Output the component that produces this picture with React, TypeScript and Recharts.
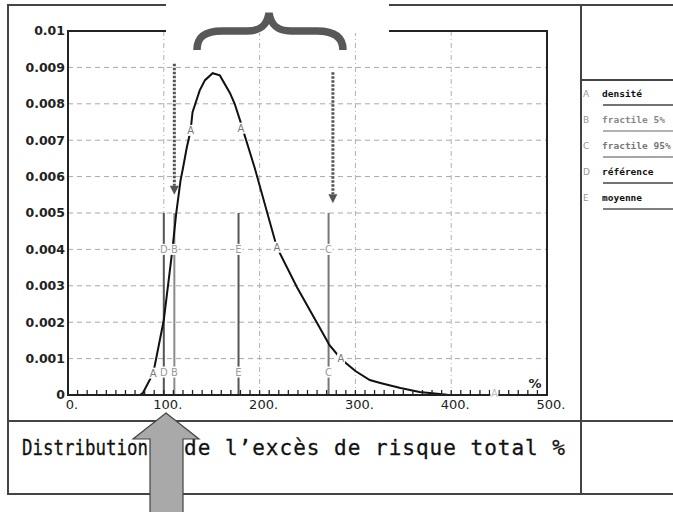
import React from 'react';
import {
  LineChart,
  Line,
  XAxis,
  YAxis,
  CartesianGrid,
  ReferenceLine,
  ReferenceDot,
  ReferenceArea,
} from 'recharts';

// ---- data ----
const densityX = [75, 78, 89, 100, 109, 113, 117.5, 120, 124, 128, 130, 137.5, 143, 151, 158.5, 169, 174, 179.5, 195, 218, 239, 260, 273, 285, 300, 315, 326, 347, 367, 396, 430, 500];
const densityY = [0, 0.00005, 0.0006, 0.00206, 0.004, 0.005, 0.0059, 0.00623, 0.0068, 0.00727, 0.00777, 0.00837, 0.00865, 0.00884, 0.00878, 0.0083, 0.008, 0.00755, 0.00623, 0.00406, 0.00296, 0.00198, 0.00137, 0.00099, 0.00066, 0.00041, 0.00033, 0.00019, 0.00008, 0.00001, 0, 0];

const yTicks = [0, 0.001, 0.002, 0.003, 0.004, 0.005, 0.006, 0.007, 0.008, 0.009, 0.01];
const yTickLabels = ['0', '0.001', '0.002', '0.003', '0.004', '0.005', '0.006', '0.007', '0.008', '0.009', '0.01'];
const xLabelTicks = [0, 100, 200, 300, 400, 500];
const xTickLabels = ['0.', '100.', '200.', '300.', '400.', '500.'];
const xGridValues = [100, 200, 300, 400];
const xMinorStep = 10;
const xMax = 500;
const xMinorTicks = Array.from({ length: xMax / xMinorStep + 1 }, (_, i) => i * xMinorStep);

// vertical marker lines (letter, x value, colour)
const markerLetters = ['D', 'B', 'E', 'C'];
const markerX = [100, 111, 178, 272];
const markerColors = ['#555', '#8a8a8a', '#555', '#777'];
const markerTop = 0.005;
const markerLabelY = [0.004, 0.00063];

// "A" labels on the density curve
const curveLabelX = [89, 128, 180.5, 218, 285, 445];
const curveLabelY = [0.0006, 0.00727, 0.00733, 0.00406, 0.00099, 0.00003];

// dotted annotation arrows
const arrowX = [111, 276.5];
const arrowFrom = [0.0091, 0.00887];
const arrowTo = [0.0055, 0.00527];

// legend
const legendLetters = ['A', 'B', 'C', 'D', 'E'];
const legendNames = ['densité', 'fractile  5%', 'fractile 95%', 'référence', 'moyenne'];
const legendTextColors = ['#111', '#888', '#777', '#111', '#111'];
const legendLineColors = ['#444', '#999', '#888', '#444', '#555'];

const titleFirstWord = 'Distribution';
const titleRest = 'de l’excès de risque total %';

const data = densityX.map((x, i) => ({ x, y: densityY[i] }));

const letterShape = (letter: string, color: string) => (p: any) => (
  <g>
    <rect x={p.cx - 4} y={p.cy - 5.5} width={8} height={11} fill="#fff" />
    <text
      x={p.cx}
      y={p.cy + 3.5}
      textAnchor="middle"
      fontSize={10}
      fontFamily="DejaVu Sans, sans-serif"
      fill={color}
    >
      {letter}
    </text>
  </g>
);

const arrowHead = (p: any) => (
  <polygon
    points={`${p.cx - 4.5},${p.cy - 9} ${p.cx + 4.5},${p.cy - 9} ${p.cx},${p.cy}`}
    fill="#555"
  />
);

const gridGen = (props: any) => {
  const xAxis = props && props.xAxis;
  if (xAxis && typeof xAxis.scale === 'function') {
    return xGridValues.map((v) => xAxis.scale(v));
  }
  const off = props.offset;
  return xGridValues.map((v) => off.left + (v / xMax) * off.width);
};

export default function App() {
  const frame = '#444';
  return (
    <div style={{ position: 'absolute', left: 0, top: 0, width: 673, height: 512, background: '#fff' }}>
      <LineChart
        width={673}
        height={512}
        data={data}
        margin={{ top: 31, right: 126, bottom: 0, left: 0 }}
      >
        <CartesianGrid vertical={false} stroke="#a8a8a8" strokeDasharray="5 4" />
        <CartesianGrid
          horizontal={false}
          stroke="#b0b0b0"
          strokeDasharray="5 3 1 3"
          verticalCoordinatesGenerator={gridGen}
        />
        <ReferenceArea x1={0} x2={xMax} y1={0} y2={0.01} fill="none" stroke="#222" strokeWidth={2} />
        <XAxis
          dataKey="x"
          type="number"
          domain={[0, xMax]}
          ticks={xMinorTicks}
          interval={0}
          height={117}
          axisLine={{ stroke: '#222', strokeWidth: 2 }}
          tickLine={{ stroke: '#222', strokeWidth: 1.3 }}
          tickSize={-5}
          tickMargin={10}
          tick={{ fontSize: 13, fontFamily: 'DejaVu Sans, sans-serif', fill: '#222', dx: 4 }}
          tickFormatter={(v: number) => {
            const i = xLabelTicks.indexOf(v);
            return i >= 0 ? xTickLabels[i] : '';
          }}
        />
        <YAxis
          type="number"
          domain={[0, 0.01]}
          ticks={yTicks}
          interval={0}
          width={68}
          axisLine={{ stroke: '#222', strokeWidth: 2 }}
          tickLine={false}
          tickSize={2}
          tickMargin={1}
          tick={{ fontSize: 12.5, fontWeight: 'bold', fontFamily: 'DejaVu Sans, sans-serif', fill: '#222' }}
          tickFormatter={(v: number) => {
            const i = yTicks.findIndex((t) => Math.abs(t - v) < 1e-9);
            return i >= 0 ? yTickLabels[i] : '';
          }}
        />
        {markerX.map((x, i) => (
          <ReferenceLine
            key={'m' + i}
            segment={[{ x, y: 0 }, { x, y: markerTop }]}
            stroke={markerColors[i]}
            strokeWidth={2}
          />
        ))}
        {arrowX.map((x, i) => (
          <ReferenceLine
            key={'a' + i}
            segment={[{ x, y: arrowFrom[i] }, { x, y: arrowTo[i] + 0.00025 }]}
            stroke="#555"
            strokeWidth={3}
            strokeDasharray="2.5 1.5"
          />
        ))}
        <Line
          type="linear"
          dataKey="y"
          stroke="#111"
          strokeWidth={2}
          dot={false}
          activeDot={false}
          isAnimationActive={false}
        />
        {arrowX.map((x, i) => (
          <ReferenceDot key={'h' + i} x={x} y={arrowTo[i]} r={0} shape={arrowHead} />
        ))}
        {markerX.map((x, i) =>
          markerLabelY.map((y, j) => (
            <ReferenceDot
              key={'ml' + i + '_' + j}
              x={x}
              y={y}
              r={0}
              shape={letterShape(markerLetters[i], '#9a9a9a')}
            />
          ))
        )}
        {curveLabelX.map((x, i) => (
          <ReferenceDot
            key={'cl' + i}
            x={x}
            y={curveLabelY[i]}
            r={0}
            shape={letterShape('A', i === curveLabelX.length - 1 ? '#bbb' : '#777')}
          />
        ))}
      </LineChart>

      <svg
        width={673}
        height={512}
        style={{ position: 'absolute', left: 0, top: 0, pointerEvents: 'none' }}
      >
        {/* outer frames */}
        <line x1={8} y1={5} x2={673} y2={5} stroke={frame} strokeWidth={2} />
        <line x1={8} y1={4} x2={8} y2={495} stroke={frame} strokeWidth={2} />
        <line x1={581} y1={4} x2={581} y2={495} stroke={frame} strokeWidth={2} />
        <line x1={8} y1={421} x2={673} y2={421} stroke={frame} strokeWidth={2} />
        <line x1={8} y1={494} x2={673} y2={494} stroke={frame} strokeWidth={2} />
        <line x1={581} y1={80} x2={673} y2={80} stroke={frame} strokeWidth={2} />

        {/* white patch and brace */}
        <rect x={166} y={0} width={223} height={33} fill="#fff" />
        <path
          d="M197,50 C197,37 205,31 222,31 L247,31 C261,31 267,25 269,13 C271,25 277,31 291,31 L317,31 C334,31 343,37 343,50"
          fill="none"
          stroke="#585858"
          strokeWidth={7.5}
        />

        {/* unit label */}
        <text x={535} y={388} textAnchor="middle" fontSize={13} fontWeight="bold" fontFamily="DejaVu Sans, sans-serif" fill="#222">
          %
        </text>

        {/* title */}
        <text y={455} fontSize={21} fontFamily="DejaVu Sans Mono, monospace" fill="#111" stroke="#111" strokeWidth={0.3}>
          <tspan x={22} textLength={126} lengthAdjust="spacingAndGlyphs">{titleFirstWord}</tspan>
          <tspan x={184} textLength={381} lengthAdjust="spacing">{titleRest}</tspan>
        </text>

        {/* legend */}
        {legendNames.map((name, i) => {
          const y = 97 + i * 26;
          return (
            <g key={'lg' + i}>
              <text x={583} y={y} fontSize={9} fontFamily="DejaVu Sans, sans-serif" fill="#999">
                {legendLetters[i]}
              </text>
              <text x={602} y={y} fontSize={9.5} fontWeight="bold" fontFamily="DejaVu Sans Mono, monospace" fill={legendTextColors[i]}>
                {name}
              </text>
              <line x1={603} y1={y + 8} x2={673} y2={y + 8} stroke={legendLineColors[i]} strokeWidth={1.5} />
            </g>
          );
        })}

        {/* big gray arrow */}
        <polygon
          points="166,413 199,439 183,439 183,513 150,513 150,439 133,439"
          fill="#a9a9a9"
          stroke="#444"
          strokeWidth={1.2}
        />
      </svg>
    </div>
  );
}
